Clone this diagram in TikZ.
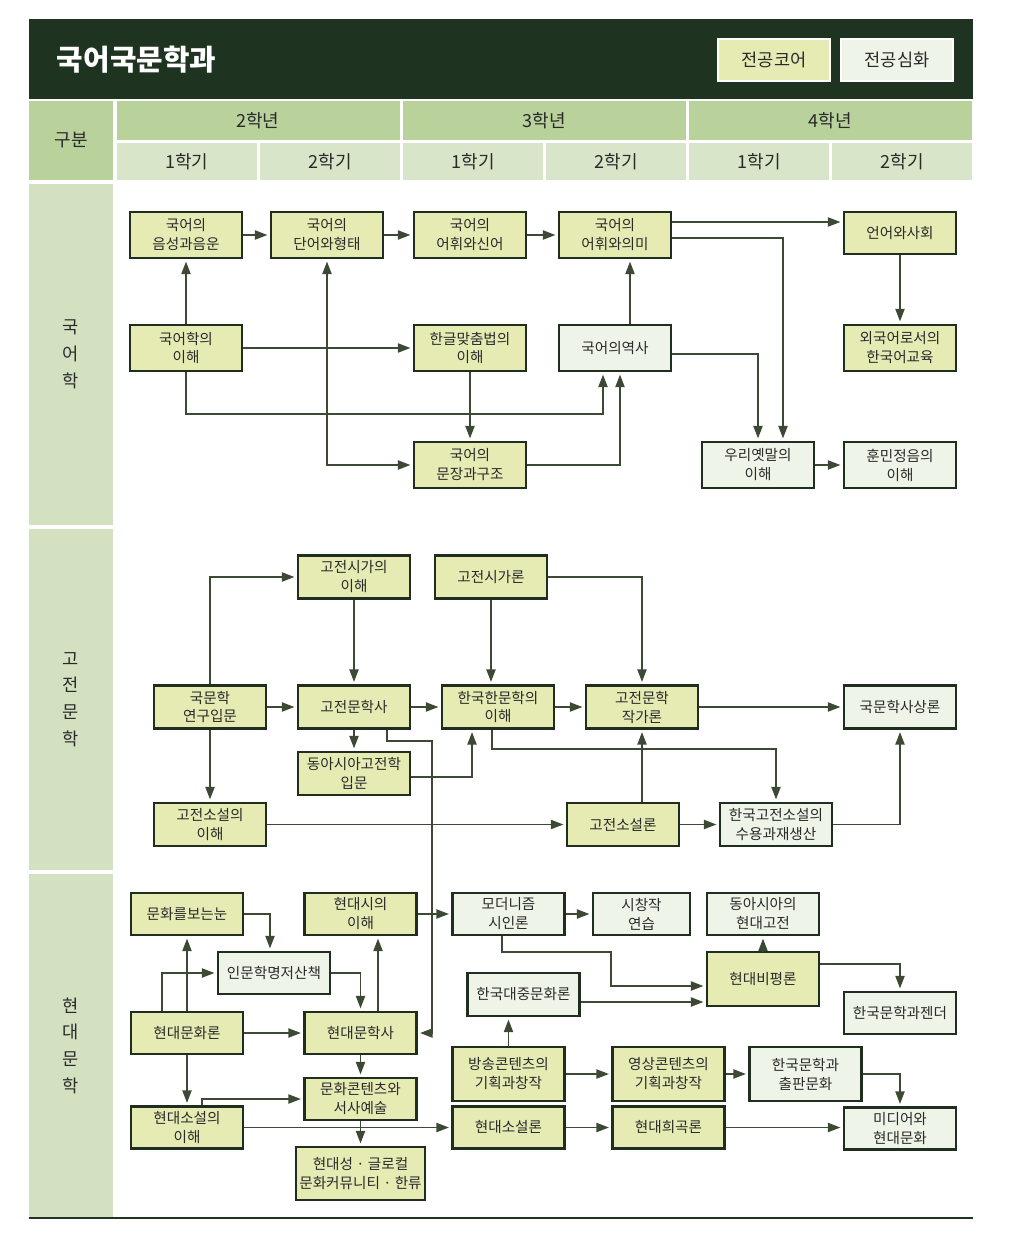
\documentclass[tikz,border=0pt]{standalone}
\usepackage{fontspec}
\setmainfont{Noto Sans CJK KR}
\usetikzlibrary{arrows.meta}
\definecolor{HeadDark}{RGB}{30,51,32}
\definecolor{YearGreen}{RGB}{185,209,155}
\definecolor{SemGreen}{RGB}{217,229,200}
\definecolor{SideGreen}{RGB}{211,225,192}
\definecolor{CoreFill}{RGB}{230,235,180}
\definecolor{AdvFill}{RGB}{239,244,232}
\definecolor{BoxLine}{RGB}{31,46,31}
\definecolor{ArrowGreen}{RGB}{60,74,53}
\definecolor{TextGray}{RGB}{42,42,42}
\newcommand{\course}[5]{%
  \node[#1] (#2) at (#3,#4) {#5};}
\tikzset{
  coursebox/.style={draw=BoxLine,line width=2pt,text=TextGray,align=center,inner sep=1pt,
    minimum width=2.8cm,minimum height=1.05cm,font=\fontsize{10.4}{13.5}\selectfont},
  core/.style={coursebox,fill=CoreFill},
  adv/.style={coursebox,fill=AdvFill},
  headtext/.style={text=TextGray,font=\fontsize{12.8}{15}\selectfont},
  sidetext/.style={text=TextGray,align=center,font=\fontsize{12.5}{19}\selectfont},
  legendbox/.style={draw=white,line width=1.5pt,text=TextGray,minimum width=2.8cm,
    minimum height=1.05cm,font=\fontsize{12.5}{14}\selectfont},
  arr/.style={draw=ArrowGreen,line width=1.3pt,-{Triangle[length=9pt,width=6.5pt]},shorten >=1.5pt},
  twoarr/.style={arr,{Triangle[length=9pt,width=6.5pt]}-{Triangle[length=9pt,width=6.5pt]},shorten <=1.5pt}
}
\begin{document}
\begin{tikzpicture}[x=0.025cm,y=-0.025cm]
  \useasboundingbox (0,0) rectangle (1024,1240);
  % header
  \fill[HeadDark] (29,19) rectangle (973,99);
  \node[anchor=west,text=white,font=\fontsize{20.5}{24}\selectfont\bfseries] (title) at (52,60) {국어국문학과};
  \node[legendbox,fill=CoreFill] (keycore) at (774,60) {전공코어};
  \node[legendbox,fill=AdvFill] (keyadv) at (897,60) {전공심화};
  \fill[YearGreen] (29,101) rectangle (113,180);
  \node[headtext] (gubun) at (71,140) {구분};
  \foreach \x/\yr in {117/2,403/3,689/4}{
    \fill[YearGreen] (\x,101) rectangle ++(283,39);
    \node[headtext] (yr\yr) at (\x+141,120.5) {\yr{}학년};
  }
  \foreach \x/\s [count=\i] in {117/1,260/2,403/1,546/2,689/1,832/2}{
    \fill[SemGreen] (\x,143) rectangle ++(140,37);
    \node[headtext] (sem\i) at (\x+70,161.5) {\s{}학기};
  }
  \foreach \y/\h/\lbl [count=\i] in {184/341/{국\\어\\학},529/341/{고\\전\\문\\학},874/343/{현\\대\\문\\학}}{
    \fill[SideGreen] (29,\y) rectangle ++(84,\h);
    \node[sidetext] (area\i) at (71,\y+\h/2) {\lbl};
  }
  \draw[HeadDark,line width=2pt] (29,1218) -- (973,1218);

  % 국어학
  \course{core,minimum height=1.15cm}{phon}{186}{235}{국어의\\음성과음운}
  \course{core,minimum height=1.15cm}{morph}{327}{235}{국어의\\단어와형태}
  \course{core,minimum height=1.15cm}{lexneo}{470}{235}{국어의\\어휘와신어}
  \course{core,minimum height=1.15cm}{lexsem}{615}{235}{국어의\\어휘와의미}
  \course{core}{langsoc}{900}{233}{언어와사회}
  \course{core,minimum height=1.15cm}{introling}{186}{348}{국어학의\\이해}
  \course{core,minimum height=1.15cm}{spelling}{470}{348}{한글맞춤법의\\이해}
  \course{adv,minimum height=1.15cm}{history}{615}{348}{국어의역사}
  \course{core,minimum height=1.15cm}{kfl}{900}{348}{외국어로서의\\한국어교육}
  \course{core,minimum height=1.15cm}{syntax}{470}{465}{국어의\\문장과구조}
  \course{adv,minimum height=1.15cm}{oldkor}{758}{465}{우리옛말의\\이해}
  \course{adv,minimum height=1.15cm}{hunmin}{900}{465}{훈민정음의\\이해}

  \draw[arr] (phon) -- (morph);
  \draw[arr] (morph) -- (lexneo);
  \draw[arr] (lexneo) -- (lexsem);
  \draw[arr] (lexsem.east |- 0,222) -- (langsoc.west |- 0,222);
  \draw[arr] (lexsem.east |- 0,238) -| (oldkor.north -| 783,0);
  \draw[arr] (introling) -- (phon);
  \draw[arr] (introling) -- (spelling);
  \draw[arr] (introling.south) |- (603,414) -- (history.south -| 603,0);
  \draw[twoarr] (morph.south) |- (syntax.west);
  \draw[arr] (spelling) -- (syntax);
  \draw[arr] (syntax.east) -| (history.south -| 620,0);
  \draw[arr] (history.north -| 630,0) -- (lexsem.south -| 630,0);
  \draw[arr] (history.east |- 0,354) -| (oldkor.north);
  \draw[arr] (langsoc.south) -- (langsoc.south |- kfl.north);
  \draw[arr] (oldkor) -- (hunmin);

  % 고전문학
  \course{core,minimum height=1.075cm}{cpoem}{354}{577}{고전시가의\\이해}
  \course{core,minimum height=1.075cm}{cpoet}{491}{577}{고전시가론}
  \course{core,minimum height=1.075cm}{litintro}{210}{707}{국문학\\연구입문}
  \course{core,minimum height=1.075cm}{clithist}{354}{707}{고전문학사}
  \course{core,minimum height=1.075cm}{hanmun}{498}{707}{한국한문학의\\이해}
  \course{core,minimum height=1.075cm}{author}{642}{707}{고전문학\\작가론}
  \course{adv,minimum height=1.075cm}{thought}{900}{707}{국문학사상론}
  \course{core,minimum height=1.075cm}{eastasia}{354}{773.5}{동아시아고전학\\입문}
  \course{core,minimum height=1.075cm}{cnovel}{210}{824.5}{고전소설의\\이해}
  \course{core,minimum height=1.075cm}{cnovth}{623}{824.5}{고전소설론}
  \course{adv,minimum height=1.075cm}{reception}{776}{824.5}{한국고전소설의\\수용과재생산}

  \draw[arr] (litintro.north) |- (cpoem.west);
  \draw[arr] (litintro) -- (clithist);
  \draw[arr] (litintro) -- (cnovel);
  \draw[arr] (cpoem) -- (clithist);
  \draw[arr] (cpoet.south) -- (cpoet.south |- hanmun.north);
  \draw[arr] (cpoet.east) -| (author.north);
  \draw[arr] (clithist) -- (hanmun);
  \draw[arr] (hanmun) -- (author);
  \draw[arr] (author) -- (thought);
  \draw[arr] (clithist) -- (eastasia);
  \draw[arr] (eastasia.east |- 0,777) -| (hanmun.south -| 472,0);
  \draw[arr] (hanmun.south -| 492,0) |- (776,749) -- (reception.north);
  \draw[arr] (cnovel) -- (cnovth);
  \draw[arr] (cnovth) -- (reception);
  \draw[arr] (cnovth.north -| author.south) -- (author.south);
  \draw[arr] (reception.east) -| (thought.south);

  % 현대문학
  \course{core}{cultview}{187}{914}{문화를보는눈}
  \course{core}{mpoem}{360.5}{914}{현대시의\\이해}
  \course{adv}{modern}{508.5}{914}{모더니즘\\시인론}
  \course{adv,minimum width=2.425cm}{poemwr}{641.5}{914}{시창작\\연습}
  \course{adv}{eamodern}{763}{914}{동아시아의\\현대고전}
  \course{adv}{humbook}{274}{973}{인문학명저산책}
  \course{core,minimum height=1.35cm}{critic}{763}{979}{현대비평론}
  \course{adv,minimum height=1.075cm}{popcult}{523.5}{994.5}{한국대중문화론}
  \course{adv}{gender}{900}{1013}{한국문학과젠더}
  \course{core}{mcult}{187}{1033}{현대문화론}
  \course{core}{mlithist}{360.5}{1033}{현대문학사}
  \course{core,minimum height=1.35cm}{broadcast}{508.5}{1074}{방송콘텐츠의\\기획과창작}
  \course{core,minimum height=1.35cm}{video}{668.5}{1074}{영상콘텐츠의\\기획과창작}
  \course{adv,minimum height=1.35cm}{publish}{805.5}{1074}{한국문학과\\출판문화}
  \course{core}{cultnarr}{360.5}{1099}{문화콘텐츠와\\서사예술}
  \course{core}{mnovel}{187}{1127.5}{현대소설의\\이해}
  \course{core}{mnovth}{508.5}{1127.5}{현대소설론}
  \course{core}{drama}{668.5}{1127.5}{현대희곡론}
  \course{adv}{media}{900}{1128.5}{미디어와\\현대문화}
  \course{core,minimum width=3.225cm,minimum height=1.325cm}{glocal}{360.5}{1173.5}{현대성 · 글로컬\\문화커뮤니티 · 한류}

  \draw[arr] (clithist.south -| 387,0) |- (432,741) |- (mlithist.east);
  \draw[arr] (cultview.east) -| (humbook.north -| 270,0);
  \draw[arr] (mcult.north) -- (cultview.south);
  \draw[arr] (mcult.north -| 162,0) |- (humbook.west);
  \draw[arr] (humbook.east) -| (mlithist.north);
  \draw[arr] (mlithist.north -| 378,0) -- (mpoem.south -| 378,0);
  \draw[arr] (mcult) -- (mlithist);
  \draw[arr] (mcult) -- (mnovel);
  \draw[arr] (mnovel.north -| 202,0) |- (cultnarr.west);
  \draw[arr] (mlithist) -- (cultnarr);
  \draw[arr] (cultnarr) -- (glocal);
  \draw[arr] (mnovel) -- (mnovth);
  \draw[arr] (mpoem) -- (modern);
  \draw[arr] (modern) -- (poemwr);
  \draw[arr] (modern.south -| 502,0) |- (611,952) |- (critic.west |- 0,986);
  \draw[arr] (popcult.east |- 0,1002) -- (critic.west |- 0,1002);
  \draw[arr] (critic) -- (eamodern);
  \draw[arr] (critic.east |- 0,964) -| (gender.north);
  \draw[arr] (broadcast.north) -- (broadcast.north |- popcult.south);
  \draw[arr] (broadcast) -- (video);
  \draw[arr] (video) -- (publish);
  \draw[arr] (publish.east) -| (media.north);
  \draw[arr] (mnovth) -- (drama);
  \draw[arr] (drama.east) -- (drama.east -| media.west);
\end{tikzpicture}
\end{document}
